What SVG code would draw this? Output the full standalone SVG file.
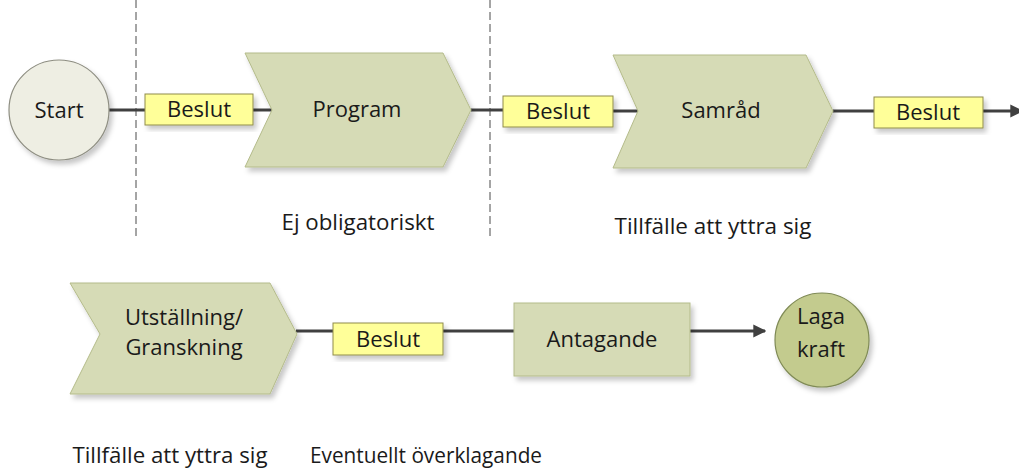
<svg xmlns="http://www.w3.org/2000/svg" width="1019" height="471" viewBox="0 0 1019 471">
  <style>
    .lbl { font-family: "Open Sans", "Liberation Sans", sans-serif; font-size: 22px; fill: #1a1a1a; text-anchor: middle; }
    .note { font-family: "Open Sans", "Liberation Sans", sans-serif; font-size: 22px; fill: #1a1a1a; text-anchor: middle; }
    .step { fill: #d6dbb6; stroke: #b4bb8a; stroke-width: 1; }
    .beslut { fill: #ffff99; stroke: #8f8c4a; stroke-width: 1; }
    .conn { stroke: #404040; stroke-width: 3; fill: none; }
    .divider { stroke: #4a4a4a; stroke-width: 1; stroke-dasharray: 8 4; fill: none; }
  </style>
  <defs>
    <filter id="shadow" x="-10%" y="-10%" width="130%" height="130%">
      <feDropShadow dx="3" dy="4" stdDeviation="2.5" flood-color="#000000" flood-opacity="0.22"/>
    </filter>
    <marker id="arrow" viewBox="0 0 10 10" refX="9" refY="5" markerUnits="userSpaceOnUse" markerWidth="13" markerHeight="20" orient="auto">
      <path d="M0,0 L10,5 L0,10 Z" fill="#404040"/>
    </marker>
  </defs>

  <rect width="1019" height="471" fill="#ffffff"/>

  <!-- phase dividers -->
  <g id="dividers">
    <line class="divider" x1="136" y1="0" x2="136" y2="240"/>
    <line class="divider" x1="490" y1="0" x2="490" y2="240"/>
  </g>

  <!-- connectors -->
  <g id="connectors">
    <line class="conn" x1="109" y1="110" x2="145" y2="110"/>
    <line class="conn" x1="253" y1="110" x2="272" y2="110"/>
    <line class="conn" x1="471" y1="110" x2="503" y2="110"/>
    <line class="conn" x1="613" y1="111" x2="638" y2="111"/>
    <line class="conn" x1="833" y1="111" x2="874" y2="111"/>
    <line class="conn" x1="983" y1="111" x2="1022" y2="111" marker-end="url(#arrow)"/>
    <line class="conn" x1="296" y1="331" x2="333" y2="331"/>
    <line class="conn" x1="443" y1="331" x2="514" y2="331"/>
    <line class="conn" x1="690" y1="331" x2="765" y2="331" marker-end="url(#arrow)"/>
  </g>

  <!-- top row -->
  <g id="start">
    <circle cx="59" cy="110" r="50" fill="#eeeee3" stroke="#8e8e82" stroke-width="1.2" filter="url(#shadow)"/>
    <text class="lbl" x="59" y="118">Start</text>
  </g>

  <g id="beslut1">
    <rect class="beslut" x="145" y="94" width="108" height="31" filter="url(#shadow)"/>
    <text class="lbl" x="199" y="117">Beslut</text>
  </g>

  <g id="program">
    <polygon class="step" points="245,53 443,53 471,110 443,167 245,167 272,110" filter="url(#shadow)"/>
    <text class="lbl" x="357" y="117">Program</text>
  </g>

  <g id="beslut2">
    <rect class="beslut" x="503" y="96" width="110" height="31" filter="url(#shadow)"/>
    <text class="lbl" x="558" y="119">Beslut</text>
  </g>

  <g id="samrad">
    <polygon class="step" points="613,55 806,55 833,111 806,168 613,168 638,111" filter="url(#shadow)"/>
    <text class="lbl" x="721" y="118">Samråd</text>
  </g>

  <g id="beslut3">
    <rect class="beslut" x="874" y="97" width="109" height="31" filter="url(#shadow)"/>
    <text class="lbl" x="928" y="120">Beslut</text>
  </g>

  <g id="note-program">
    <text class="note" x="358" y="230" textLength="153" lengthAdjust="spacingAndGlyphs">Ej obligatoriskt</text>
  </g>
  <g id="note-samrad">
    <text class="note" x="713" y="234" textLength="197" lengthAdjust="spacingAndGlyphs">Tillfälle att yttra sig</text>
  </g>

  <!-- bottom row -->
  <g id="utstallning">
    <polygon class="step" points="70,283 270,283 297,334 270,394 70,394 100,334" filter="url(#shadow)"/>
    <text class="lbl" x="184" y="325">Utställning/</text>
    <text class="lbl" x="184" y="355">Granskning</text>
  </g>

  <g id="beslut4">
    <rect class="beslut" x="333" y="323" width="110" height="32" filter="url(#shadow)"/>
    <text class="lbl" x="388" y="347">Beslut</text>
  </g>

  <g id="antagande">
    <rect class="step" x="514" y="303" width="176" height="73" filter="url(#shadow)"/>
    <text class="lbl" x="602" y="347">Antagande</text>
  </g>

  <g id="laga-kraft">
    <circle cx="822" cy="340" r="47" fill="#c3cb8e" stroke="#7f8a55" stroke-width="1.2" filter="url(#shadow)"/>
    <text class="lbl" x="821" y="324">Laga</text>
    <text class="lbl" x="821" y="357">kraft</text>
  </g>

  <g id="note-utstallning">
    <text class="note" x="170" y="463" textLength="195" lengthAdjust="spacingAndGlyphs">Tillfälle att yttra sig</text>
  </g>
  <g id="note-antagande">
    <text class="note" x="426" y="463" textLength="232" lengthAdjust="spacingAndGlyphs">Eventuellt överklagande</text>
  </g>
</svg>
